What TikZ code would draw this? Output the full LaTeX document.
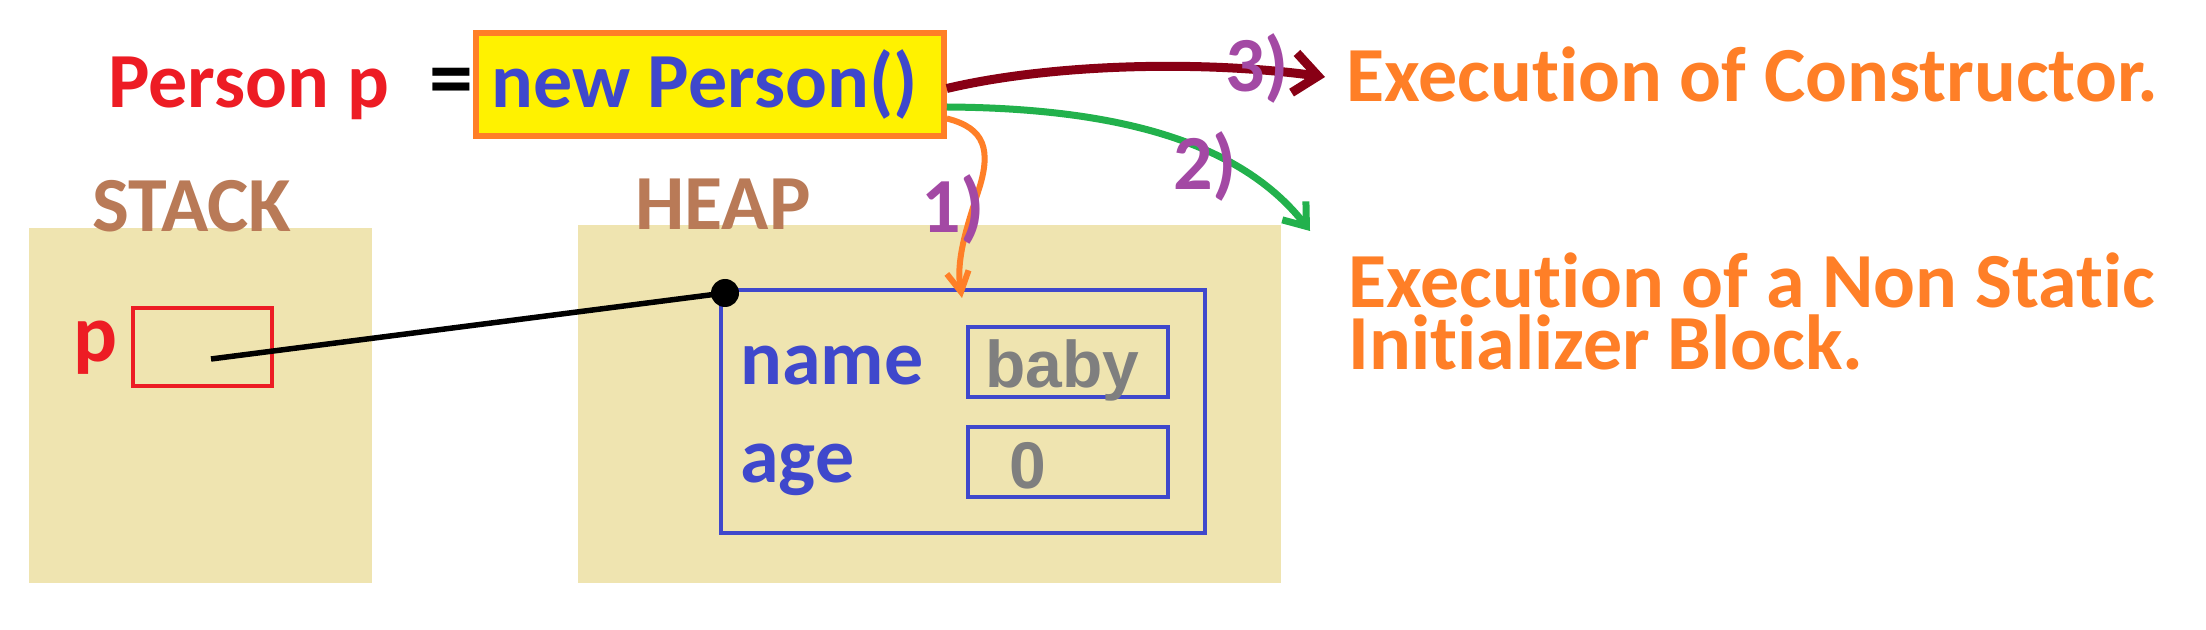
\documentclass[tikz,border=0pt]{standalone}
\usepackage{fontspec}
\setmainfont{Carlito}[Ligatures=NoCommon]
\newfontfamily\arialfont{Liberation Sans}
\usetikzlibrary{arrows.meta,calc}
\definecolor{cred}{HTML}{ED1C24}
\definecolor{cblue}{HTML}{3F48CC}
\definecolor{cyellow}{HTML}{FFF200}
\definecolor{corange}{HTML}{FF7F27}
\definecolor{cbrown}{HTML}{B97A57}
\definecolor{ctan}{HTML}{EFE4B0}
\definecolor{cpurple}{HTML}{A349A4}
\definecolor{cgreen}{HTML}{22B14C}
\definecolor{cdarkred}{HTML}{880015}
\definecolor{cgray}{HTML}{7F7F7F}
\tikzset{
  txt/.style={inner sep=0pt, anchor=base west, font=\bfseries\fontsize{39}{39}\selectfont},
  valtxt/.style={inner sep=0pt, anchor=base west, text=cgray, font=\arialfont\bfseries\fontsize{33}{33}\selectfont},
  bgbox/.style={fill=ctan, draw=none, inner sep=0pt},
  fieldbox/.style={draw=cblue, line width=2pt, inner sep=0pt, minimum width=100pt, minimum height=35pt},
  numlabel/.style={txt, text=cpurple},
  flow/.style={line width=#1}
}
\begin{document}
\begin{tikzpicture}[x=0.5pt,y=-0.5pt]
\useasboundingbox (0,0) rectangle (2206,630);
\fill[white] (0,0) rectangle (2206,630);

% background areas
\node[bgbox, minimum width=171.5pt, minimum height=177.5pt] (stack) at (200.5,405.5) {};
\node[bgbox, minimum width=351.5pt, minimum height=179pt] (heap) at (929.5,404) {};

% top statement
\node[txt, text=cred] (decl) at (108,108) {Person p};
\node[txt, anchor=base, text=black, font=\bfseries\fontsize{44}{44}\selectfont] (eq) at (451,108) {=};
\node[draw=corange, fill=cyellow, line width=2.75pt, inner sep=0pt, minimum width=234pt, minimum height=51.5pt] (ybox) at (710,84.5) {};
\node[txt, text=cblue] (newp) at (491,108) {new Person()};

% titles
\node[txt, text=cbrown] (stacklbl) at (92,232) {STACK};
\node[txt, text=cbrown] (heaplbl) at (635,230) {HEAP};

% stack variable
\node[txt, text=cred, font=\bfseries\fontsize{41}{41}\selectfont] (plbl) at (73,362) {p};
\node[draw=cred, line width=2pt, inner sep=0pt, minimum width=69.5pt, minimum height=39pt] (pbox) at (202.5,347) {};
\coordinate (pstart) at (211,359);

% heap object
\node[draw=cblue, line width=2pt, inner sep=0pt, minimum width=242pt, minimum height=121.5pt] (obj) at (963,411.5) {};
\node[txt, text=cblue] (namelbl) at (740,385) {name};
\node[txt, text=cblue] (agelbl) at (740,482) {age};
\node[fieldbox] (namebox) at (1068,362) {};
\node[fieldbox] (agebox) at (1068,462) {};
\node[valtxt] (baby) at (985,388) {baby};
\node[valtxt] (zero) at (1009,488) {0};

% reference
\node[circle, fill=black, inner sep=0pt, minimum size=14pt] (dot) at (725,293) {};
\draw[line width=2.75pt] (pstart) -- (dot.center);

% arrows
\coordinate (e3) at (1325,77);
\coordinate (e2) at (1310,231);
\coordinate (e1) at (962,298);
\draw[flow=4.5pt, cdarkred, -{Straight Barb[length=12pt,width=20pt]}]
  ($(ybox.east)+(0,4)$) .. controls (1050,64) and (1200,60) .. (e3);
\draw[flow=3.5pt, cgreen, -{Straight Barb[length=10pt,width=15pt]}]
  ($(ybox.east)+(0,22.5)$) .. controls (1100,108) and (1235,135) .. (e2);
\draw[flow=3pt, corange, -{Straight Barb[length=10pt,width=11pt]}]
  ($(ybox.east)+(0,34)$) .. controls (985,128) and (992,150) .. (978,192)
  .. controls (965,232) and (956,262) .. (e1);

% step labels
\node[numlabel] (n3) at (1225,92) {3)};
\node[numlabel] (n2) at (1173,190) {2)};
\node[numlabel] (n1) at (921,233) {1)};

% descriptions
\node[txt, text=corange] (ctor) at (1346,102) {Execution of Constructor.};
\node[txt, text=corange] (init1) at (1348,308) {Execution of a Non Static};
\node[txt, text=corange] (init2) at (1348,370) {Initializer Block.};
\end{tikzpicture}
\end{document}
